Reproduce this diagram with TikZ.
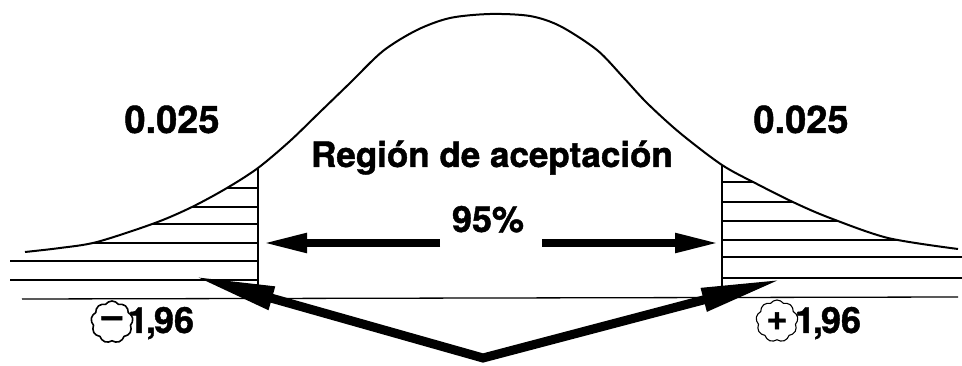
\documentclass[tikz,border=0pt]{standalone}
\usepackage{fontspec}
\setmainfont{TeX Gyre Heros}
\newfontface\heavy{texgyreheros-bold.otf}[RawFeature={embolden=1.2}]
\usetikzlibrary{arrows.meta,shapes.symbols}
\begin{document}
\begin{tikzpicture}[x=1pt,y=-1pt,
  curveline/.style={line width=2pt, line join=round},
  hatch/.style={line width=1.3pt},
  wall/.style={line width=1.5pt},
  bigarrow/.style={line width=8pt, -{Triangle[length=45pt,width=18pt]}},
  varrow/.style={line width=9pt, line join=miter,
     {Triangle[length=82pt,width=22pt]}-{Triangle[length=82pt,width=22pt]}},
  bigtxt/.style={font=\heavy\fontsize{38}{40}\selectfont, inner sep=0pt, anchor=base},
  midtxt/.style={font=\heavy\fontsize{35}{37}\selectfont, inner sep=0pt, anchor=base},
  numtxt/.style={font=\heavy\fontsize{36}{38}\selectfont, inner sep=0pt, anchor=base},
  blob/.style={cloud, cloud puffs=9, cloud puff arc=110, aspect=1, draw,
     line width=1.6pt, minimum width=42pt, minimum height=42pt, inner sep=0pt,
     font=\heavy\fontsize{36}{36}\selectfont}
]
\useasboundingbox (0,0) rectangle (962,366);

% hatching under the tails
\begin{scope}
\clip plot[smooth] coordinates {(25,252) (60,248) (97,242) (155,223) (192,207) (227,188) (258,168) (290,141) (320,112) (350,83) (383,51) (417,30) (450,18) (490,14) (530,16) (560,26) (597,50) (623,77) (647,103) (680,133) (722,165) (757,184) (795,203) (830,218) (888,238) (958,249)}
  -- (962,249) -- (962,320) -- (0,320) -- (0,252) -- cycle;
\foreach \yy in {188,207,224,243,261,280}
  \draw[hatch] (10,\yy) -- (258,\yy);
\foreach \yy in {182,202,221,240,257,278}
  \draw[hatch] (722,\yy) -- (962,\yy);
\end{scope}

% bell curve
\draw[curveline] plot[smooth] coordinates {(25,252) (60,248) (97,242) (155,223) (192,207) (227,188) (258,168) (290,141) (320,112) (350,83) (383,51) (417,30) (450,18) (490,14) (530,16) (560,26) (597,50) (623,77) (647,103) (680,133) (722,165) (757,184) (795,203) (830,218) (888,238) (958,249)};

% critical value walls and base line
\coordinate (wl0) at (258,168); \coordinate (wl1) at (258,299);
\coordinate (wr0) at (722,165); \coordinate (wr1) at (722,297);
\draw[wall] (wl0) -- (wl1);
\draw[wall] (wr0) -- (wr1);
\coordinate (b0) at (22,299); \coordinate (b1) at (958,297);
\draw[hatch] (b0) -- (b1);

% texts
\node[bigtxt] (pl) at (172,133) {0.025};
\node[bigtxt] (pr) at (801,133) {0.025};
\node[midtxt] (reg) at (492,167) {Región de aceptación};
\node[numtxt] (pct) at (488,232) {95\%};

% horizontal arrows
\coordinate (la0) at (440,243); \coordinate (la1) at (262,243);
\coordinate (ra0) at (542,243); \coordinate (ra1) at (720,243);
\draw[bigarrow] (la0) -- (la1);
\draw[bigarrow] (ra0) -- (ra1);

% V arrows
\coordinate (vl) at (193,276);
\coordinate (vv) at (483,358);
\coordinate (vr) at (783,279);
\draw[varrow] (vl) -- (vv) -- (vr);

% critical values
\node[blob] (cm) at (112,322) {–};
\node[numtxt] (zl) at (161,333) {1\kern-2pt,\kern-2pt96};
\node[blob, line width=1.1pt] (cp) at (777,321) {+};
\node[numtxt] (zr) at (828,333) {1\kern-2pt,\kern-2pt96};
\end{tikzpicture}
\end{document}
